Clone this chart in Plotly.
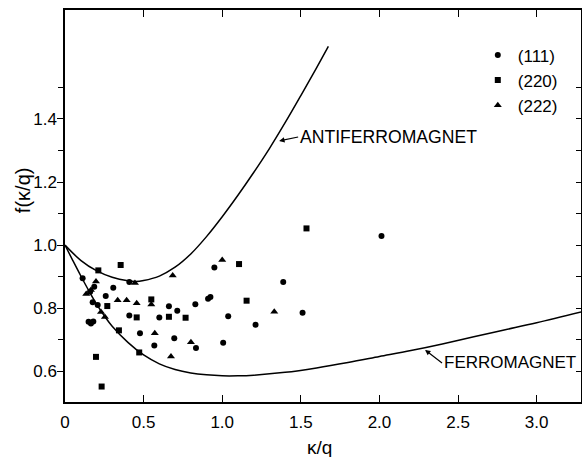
import plotly.graph_objects as go

# ---- data ----
afm_x = [0, 0.1, 0.2, 0.3, 0.4, 0.45, 0.5, 0.6, 0.7, 0.8, 0.9, 1.0, 1.1, 1.2, 1.3, 1.4, 1.5, 1.6, 1.675]
afm_y = [1.0, 0.952, 0.919, 0.898, 0.887, 0.885, 0.888, 0.902, 0.930, 0.972, 1.027, 1.090, 1.158, 1.230, 1.306, 1.388, 1.474, 1.562, 1.630]

fm_x = [0, 0.05, 0.1, 0.15, 0.2, 0.25, 0.3, 0.4, 0.5, 0.6, 0.7, 0.8, 0.9, 1.0, 1.1, 1.2, 1.4, 1.6, 1.8, 2.0, 2.2, 2.4, 2.6, 2.8, 3.0, 3.29]
fm_y = [1.0, 0.951, 0.903, 0.857, 0.814, 0.776, 0.743, 0.692, 0.652, 0.624, 0.606, 0.595, 0.589, 0.586, 0.586, 0.588, 0.597, 0.611, 0.628, 0.647, 0.666, 0.687, 0.71, 0.732, 0.754, 0.789]

c111_x = [0.112, 0.186, 0.16, 0.307, 0.259, 0.409, 0.176, 0.208, 0.15, 0.165, 0.18, 0.409, 0.477, 0.568,
          0.600, 0.661, 0.714, 0.695, 0.833, 0.829, 0.910, 0.925, 0.950, 1.006, 1.038, 1.212, 1.388, 1.511, 2.013]
c111_y = [0.895, 0.868, 0.852, 0.865, 0.839, 0.883, 0.819, 0.810, 0.757, 0.752, 0.758, 0.777, 0.721, 0.682,
          0.771, 0.806, 0.792, 0.705, 0.674, 0.813, 0.830, 0.836, 0.929, 0.691, 0.775, 0.748, 0.883, 0.786, 1.029]

s220_x = [0.212, 0.354, 0.269, 0.549, 0.456, 0.661, 0.767, 1.107, 1.155, 0.343, 0.472, 0.197, 0.233, 1.536]
s220_y = [0.920, 0.937, 0.807, 0.828, 0.771, 0.773, 0.770, 0.940, 0.824, 0.730, 0.660, 0.646, 0.552, 1.053]

t222_x = [0.197, 0.165, 0.135, 0.445, 0.685, 1.000, 0.335, 0.392, 0.456, 0.549, 0.229, 0.254, 0.571, 0.801, 0.674, 1.331]
t222_y = [0.885, 0.858, 0.845, 0.880, 0.904, 0.953, 0.825, 0.825, 0.816, 0.812, 0.788, 0.772, 0.721, 0.692, 0.647, 0.789]

x_ticks = [0, 0.5, 1.0, 1.5, 2.0, 2.5, 3.0]
x_tick_labels = ["0", "0.5", "1.0", "1.5", "2.0", "2.5", "3.0"]
y_ticks = [0.6, 0.8, 1.0, 1.2, 1.4]
y_tick_labels = ["0.6", "0.8", "1.0", "1.2", "1.4"]
y_minor = [0.7, 0.9, 1.1, 1.3, 1.5]
y_right_ticks = [0.6, 0.7, 0.8, 0.9, 1.0, 1.1, 1.2, 1.3, 1.4, 1.5]

X_RANGE = [0, 3.282]
Y_RANGE = [0.503, 1.745]
FONT = "Liberation Sans"

fig = go.Figure()
fig.add_trace(go.Scatter(x=afm_x, y=afm_y, mode="lines", line=dict(color="black", width=1.5, shape="spline"),
                         showlegend=False, hoverinfo="skip"))
fig.add_trace(go.Scatter(x=fm_x, y=fm_y, mode="lines", line=dict(color="black", width=1.5, shape="spline"),
                         showlegend=False, hoverinfo="skip", yaxis="y2"))
fig.add_trace(go.Scatter(x=c111_x, y=c111_y, mode="markers", name="(111)",
                         marker=dict(symbol="circle", size=6, color="black")))
fig.add_trace(go.Scatter(x=s220_x, y=s220_y, mode="markers", name="(220)",
                         marker=dict(symbol="square", size=6, color="black")))
fig.add_trace(go.Scatter(x=t222_x, y=t222_y, mode="markers", name="(222)",
                         marker=dict(symbol="triangle-up", size=7, color="black")))

fig.update_layout(
    width=582, height=457,
    margin=dict(l=65, r=1, t=10, b=55),
    paper_bgcolor="white", plot_bgcolor="white",
    font=dict(family=FONT, size=17, color="black"),
    xaxis=dict(range=X_RANGE, tickvals=x_ticks, ticktext=x_tick_labels, ticks="inside", ticklen=7,
               tickwidth=1.2, tickcolor="black", showline=True, linecolor="black", linewidth=1.5,
               mirror="ticks", showgrid=False, zeroline=False, tickfont=dict(size=17),
               ticklabelstandoff=4),
    yaxis=dict(range=Y_RANGE, tickvals=y_ticks, ticktext=y_tick_labels, ticks="outside", ticklen=6,
               tickwidth=1.2, tickcolor="black", showline=True, linecolor="black", linewidth=1.5,
               showgrid=False, zeroline=False, tickfont=dict(size=17), ticklabelstandoff=-3,
               minor=dict(tickvals=y_minor, ticks="outside", ticklen=5, tickwidth=1.2, tickcolor="black",
                          showgrid=False)),
    yaxis2=dict(range=Y_RANGE, overlaying="y", side="right", tickvals=y_right_ticks, ticks="inside",
                ticklen=5, tickwidth=1.2, tickcolor="black", showticklabels=False, showline=True,
                linecolor="black", linewidth=1.5, showgrid=False, zeroline=False),
    legend=dict(x=0.80, y=0.93, xanchor="left", yanchor="top", bgcolor="rgba(0,0,0,0)",
                font=dict(family=FONT, size=17), itemwidth=30, tracegroupgap=0),
    showlegend=True,
)

fig.add_annotation(x=1.362, y=1.33, xref="x", yref="y", text="ANTIFERROMAGNET", showarrow=True,
                   ax=19, ay=-4, axref="pixel", ayref="pixel", xanchor="left", yanchor="middle",
                   arrowhead=2, arrowsize=0.9, arrowwidth=1.2, arrowcolor="black",
                   font=dict(family=FONT, size=17.6))
fig.add_annotation(x=2.29, y=0.668, xref="x", yref="y", text="FERROMAGNET", showarrow=True,
                   ax=17, ay=13, axref="pixel", ayref="pixel", xanchor="left", yanchor="middle",
                   arrowhead=2, arrowsize=0.9, arrowwidth=1.2, arrowcolor="black",
                   font=dict(family=FONT, size=17))
fig.add_annotation(x=0.494, y=-0.117, xref="paper", yref="paper", text="κ/q", showarrow=False,
                   xanchor="center", yanchor="middle", font=dict(family=FONT, size=19))
fig.add_annotation(x=-0.081, y=0.541, xref="paper", yref="paper", text="f(κ/q)", showarrow=False,
                   textangle=-90, xanchor="center", yanchor="middle", font=dict(family=FONT, size=20))

fig.write_html("out.html")
